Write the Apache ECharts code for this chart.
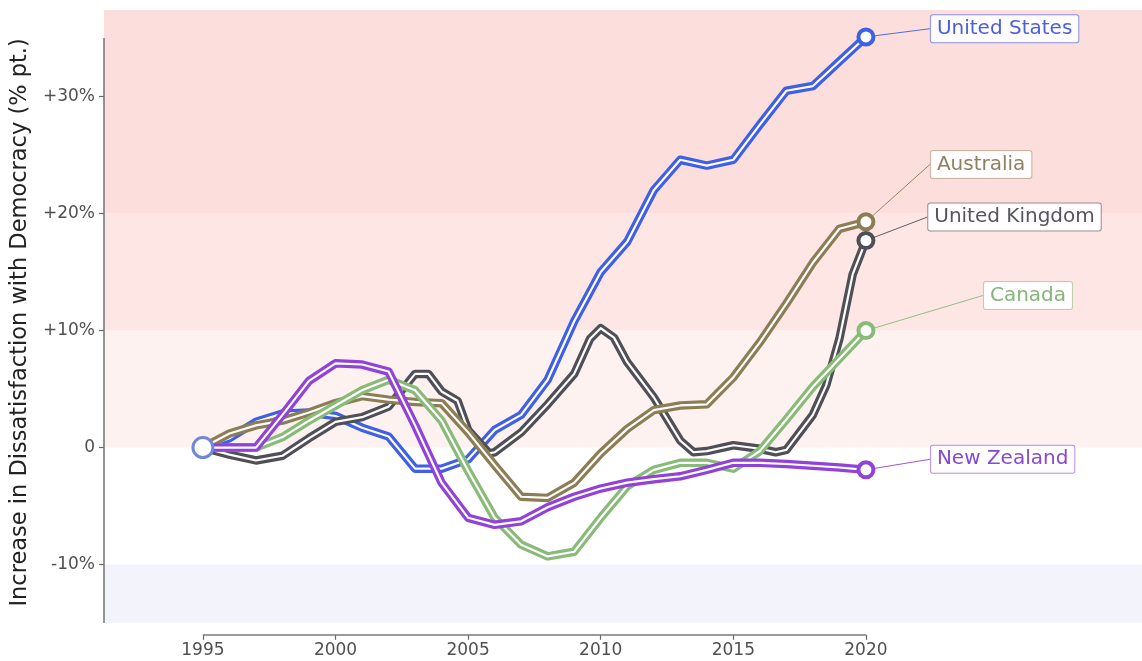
<!DOCTYPE html>
<html><head><meta charset="utf-8">
<script src="https://cdn.jsdelivr.net/npm/echarts@6/dist/echarts.min.js"></script>
<style>html,body{margin:0;padding:0;background:#fff}#c{width:1142px;height:661px}</style>
</head><body><div id="c"></div>
<script>
// ---------------- data ----------------
const countries = ['United States', 'Australia', 'United Kingdom', 'Canada', 'New Zealand'];
const years = [1995,1996,1997,1998,1999,2000,2001,2002,2003,2004,2005,2006,2007,2008,2009,2010,2011,2012,2013,2014,2015,2016,2017,2018,2019,2020];
const usValues = [0,0.8,2.2,2.9,3.0,2.7,1.7,0.95,-1.8,-1.8,-1.0,1.5,2.8,5.8,10.8,15.0,17.6,22.0,24.6,24.1,24.6,27.6,30.5,30.9,33.0,35.1];
const auValues = [0,1.2,1.9,2.3,3.0,3.8,4.4,4.1,3.9,3.8,1.3,-1.5,-4.2,-4.3,-3.0,-0.5,1.6,3.2,3.6,3.7,6.0,9.0,12.3,15.8,18.7,19.3];
const ukYears = [1995,1996,1997,1998,1999,2000,2001,2002,2003,2003.5,2004,2004.6,2005,2005.8,2006,2007,2008,2009,2009.6,2010,2010.5,2011,2012,2013,2013.5,2014,2015,2016,2016.6,2017,2017.5,2018,2018.5,2019,2019.5,2020];
const ukValues = [0,-0.6,-1.1,-0.7,0.8,2.2,2.6,3.5,6.3,6.3,4.8,4.0,1.5,-0.5,-0.4,1.3,3.7,6.3,9.3,10.2,9.4,7.3,4.3,0.6,-0.4,-0.3,0.2,-0.1,-0.4,-0.2,1.3,2.8,5.3,9.3,14.8,17.7];
const caValues = [0,0,0,0.9,2.3,3.6,4.9,5.8,4.9,2.3,-2.0,-6.0,-8.3,-9.3,-8.9,-6.0,-3.3,-1.9,-1.3,-1.3,-1.8,-0.3,2.4,5.2,7.6,10.0];
const nzValues = [0,0,0,2.8,5.7,7.2,7.1,6.5,1.9,-3.0,-6.0,-6.6,-6.3,-5.1,-4.2,-3.5,-3.0,-2.7,-2.45,-1.9,-1.3,-1.3,-1.4,-1.55,-1.7,-1.9];
const xTicks = [1995, 2000, 2005, 2010, 2015, 2020];
const yTicks = [-10, 0, 10, 20, 30];
// label anchor positions (data units)
const labelYears = [2022.45, 2022.45, 2022.35, 2024.45, 2022.45];
const labelValues = [35.8, 24.2, 19.7, 13.0, -1.0];
// background bands (value ranges)
const bandLows = [20, 10, 0, -15];
const bandHighs = [37.4, 20, 10, -10];

// ---------------- styling ----------------
const seriesX = [years, years, ukYears, years, years];
const seriesY = [usValues, auValues, ukValues, caValues, nzValues];
const lineColors = ['#3f5fe6', '#8d7d55', '#4f4f57', '#88ba78', '#9142d8'];
const textColors = ['#4a5ee0', '#8d8262', '#55555f', '#86b47a', '#8648d8'];
const borderColors = ['rgba(63,95,230,0.6)', 'rgba(141,125,85,0.45)', 'rgba(79,79,87,0.55)', 'rgba(136,186,120,0.55)', 'rgba(145,66,216,0.6)'];
const bandColors = ['#fcdedc', '#fde6e4', '#fdf2ef', '#f2f3fb'];
const drawOrder = [0, 2, 1, 3, 4];

const X_MIN = 1991.27, X_MAX = 2030.41, Y_MIN = -16, Y_MAX = 37.4;
const G_LEFT = 104, G_RIGHT = 0, G_TOP = 10, G_BOTTOM = 26.2;
const W = 1142, H = 661;
function toPx(x, y) {
  const gw = W - G_LEFT - G_RIGHT, gh = H - G_TOP - G_BOTTOM;
  return [G_LEFT + (x - X_MIN) / (X_MAX - X_MIN) * gw, G_TOP + (Y_MAX - y) / (Y_MAX - Y_MIN) * gh];
}

const chart = echarts.init(document.getElementById('c'));
const font = 'DejaVu Sans';
const series = [];

// background + trimmed spines
series.push({
  type: 'line', data: [], silent: true, clip: false, z: 0,
  markArea: {
    silent: true,
    data: bandLows.map((lo, i) => [{ yAxis: lo, itemStyle: { color: bandColors[i] } }, { yAxis: bandHighs[i] }])
  },
  markLine: {
    silent: true, symbol: 'none', label: { show: false },
    lineStyle: { color: '#7a7a7a', width: 1.6, type: 'solid' },
    emphasis: { disabled: true },
    data: [
      [{ coord: [xTicks[0], Y_MIN] }, { coord: [xTicks[xTicks.length - 1], Y_MIN] }],
      [{ coord: [X_MIN, -15] }, { coord: [X_MIN, 35] }]
    ]
  }
});

drawOrder.forEach(i => {
  const d = seriesX[i].map((x, k) => [x, seriesY[i][k]]);
  series.push({
    type: 'line', name: countries[i], data: d, symbol: 'none', silent: true, z: 2,
    lineStyle: { color: lineColors[i], width: 8.5, cap: 'round', join: 'round' }
  });
  series.push({
    type: 'line', data: d, symbol: 'none', silent: true, z: 2,
    lineStyle: { color: '#ffffff', width: 2.2, cap: 'round', join: 'round' }
  });
});

// end markers with labels
series.push({
  type: 'scatter', silent: true, z: 5,
  symbol: 'circle', symbolSize: 15,
  itemStyle: { color: '#ffffff', borderWidth: 4, opacity: 1 },
  data: countries.map((c, i) => {
    const xs = seriesX[i], ys = seriesY[i];
    return {
      name: c,
      value: [xs[xs.length - 1], ys[ys.length - 1]],
      itemStyle: { borderColor: lineColors[i] },
      label: { color: textColors[i], borderColor: borderColors[i] },
      labelLine: { lineStyle: { color: lineColors[i], width: 1, opacity: 0.9 } }
    };
  }),
  label: {
    show: true, formatter: '{b}', fontSize: 20, lineHeight: 23, fontFamily: font,
    backgroundColor: 'rgba(255,255,255,0.92)', borderWidth: 1, borderRadius: 2,
    padding: [2, 6, 2, 6]
  },
  labelLine: { show: true, smooth: false, length2: 0 },
  labelLayout: function (params) {
    const i = params.dataIndex;
    const p = toPx(labelYears[i], labelValues[i]);
    return { x: p[0], y: p[1], align: 'left', verticalAlign: 'middle' };
  }
});

// common start marker
series.push({
  type: 'scatter', silent: true, z: 6, symbol: 'circle', symbolSize: 20,
  itemStyle: { color: '#ffffff', borderColor: '#7088d8', borderWidth: 3, opacity: 1 },
  data: [[years[0], usValues[0]]]
});

chart.setOption({
  animation: false,
  textStyle: { fontFamily: font },
  grid: { left: G_LEFT, right: G_RIGHT, top: G_TOP, bottom: G_BOTTOM, containLabel: false },
  xAxis: {
    type: 'value', min: X_MIN, max: X_MAX,
    axisLine: { show: false, onZero: false },
    splitLine: { show: false },
    axisTick: { show: true, customValues: xTicks, length: 5, lineStyle: { color: '#666', width: 1.2 } },
    axisLabel: { customValues: xTicks, fontSize: 17, color: '#505050', margin: 7, fontFamily: font, formatter: v => String(v) }
  },
  yAxis: {
    type: 'value', min: Y_MIN, max: Y_MAX,
    name: 'Increase in Dissatisfaction with Democracy (% pt.)',
    nameLocation: 'middle', nameGap: 70,
    nameTextStyle: { fontSize: 22.5, color: '#222', fontFamily: font },
    axisLine: { show: false, onZero: false },
    splitLine: { show: false },
    axisTick: { show: true, customValues: yTicks, length: 5, lineStyle: { color: '#666', width: 1.2 } },
    axisLabel: {
      customValues: yTicks, fontSize: 17, color: '#505050', margin: 9, fontFamily: font,
      formatter: v => v > 0 ? '+' + v + '%' : (v === 0 ? '0' : v + '%')
    }
  },
  series: series
});
</script>
</body></html>
